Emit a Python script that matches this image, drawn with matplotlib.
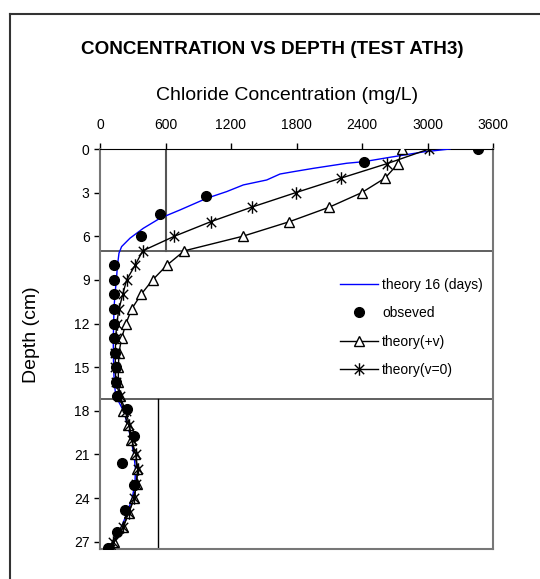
import numpy as np
from matplotlib import pyplot as plt
from matplotlib.path import Path
from matplotlib.lines import Line2D

plt.rcParams['font.family'] = ['Liberation Sans', 'DejaVu Sans']

# observed chloride (mg/L) vs depth (cm)
obs_depth = [0, 0.9, 3.2, 4.5, 6, 8, 9, 10, 11, 12, 13, 14, 15, 16, 17,
             17.9, 19.7, 21.6, 23.1, 24.8, 26.3, 27.4]
obs_conc = [3465, 2418, 971, 550, 372, 128, 128, 128, 128, 128, 128, 137, 146, 150, 153,
            250, 314, 204, 311, 226, 159, 70]

# theory 16 days
th_depth = [0, 0.2, 0.57, 0.87, 0.98, 1.33, 1.56, 1.72, 2.13, 2.47, 2.93, 3.39, 4.19,
            4.76, 5.45, 6.13, 6.71, 7.16, 8, 9, 10, 11, 12, 13, 14, 15, 16, 17,
            18, 19, 20, 21, 22, 23, 24, 25, 26, 27, 27.5]
th_conc = [3206, 2962, 2656, 2418, 2260, 1954, 1771, 1649, 1527, 1313, 1160, 977, 733,
           550, 397, 275, 198, 174, 160, 150, 137, 128, 125, 122, 122, 125, 130, 145,
           215, 255, 285, 310, 325, 320, 295, 250, 195, 120, 90]

# theory(+v) and theory(v=0), one point per cm
depth_int = list(range(28)) + [27.5]
tv_conc = [2763, 2732, 2611, 2397, 2100, 1734, 1307, 772, 611, 482, 376, 290, 238, 198,
           174, 168, 168, 183, 214, 260, 284, 321, 342, 336, 311, 266, 208, 131, 107]
t0_conc = [3014, 2632, 2208, 1793, 1389, 1014, 681, 391, 321, 244, 208, 174, 153, 144,
           140, 140, 145, 183, 235, 270, 292, 327, 345, 333, 314, 262, 214, 122, 92]

star = Path([(0, -1), (0, 1), (-0.75, -0.75), (0.75, 0.75), (-0.75, 0.75), (0.75, -0.75)],
            [Path.MOVETO, Path.LINETO, Path.MOVETO, Path.LINETO, Path.MOVETO, Path.LINETO])

fig = plt.figure(figsize=(5.4, 5.79), dpi=100)
ax = fig.add_axes([100/540, 1-549/579, 393/540, 400/579])

ax.axhline(7, color='#444444', lw=1.2, zorder=1)
ax.axhline(17.2, color='#444444', lw=1.2, zorder=1)
ax.plot([600, 600], [0, 7], color='#555555', lw=1.5, zorder=1)
ax.plot([535, 535], [17.2, 27.5], color='black', lw=1, zorder=1)

ax.plot(th_conc, th_depth, color='#0000ff', lw=1, label='theory 16 (days)', zorder=3)
ax.plot(obs_conc, obs_depth, 'o', color='black', ms=7, label='obseved', zorder=4)
ax.plot(tv_conc, depth_int, color='black', lw=1, marker='^', ms=7, mfc='white',
        mec='black', mew=1, label='theory(+v)', zorder=3)
ax.plot(t0_conc, depth_int, color='black', lw=1, marker=star, ms=9, mew=1,
        label='theory(v=0)', zorder=3)

ax.set_xlim(0, 3600)
ax.set_ylim(27.5, 0)
ax.set_xticks(np.arange(0, 3601, 600))
ax.set_yticks(np.arange(0, 28, 3))
ax.xaxis.tick_top()
ax.tick_params(axis='both', labelsize=10, length=4, direction='out', width=1)
ax.tick_params(axis='x', pad=8)

for s in ['left', 'right', 'bottom']:
    ax.spines[s].set_color('#777777')
    ax.spines[s].set_linewidth(1.5)
ax.spines['top'].set_color('black')

ax.legend(loc='upper left', bbox_to_anchor=(0.58, 0.71), frameon=False, fontsize=10,
          handlelength=2.7, handletextpad=0.3, labelspacing=1.05)

fig.text(272/540, 1-49/579, 'CONCENTRATION VS DEPTH (TEST ATH3)', ha='center', va='center',
         fontsize=13.6, fontweight='bold')
fig.text(287/540, 1-95/579, 'Chloride Concentration (mg/L)', ha='center', va='center',
         fontsize=14)
fig.text(32/540, 1-335/579, 'Depth (cm)', rotation=90, ha='center', va='center',
         fontsize=14)

# outer chart frame
fig.add_artist(Line2D([10/540, 10/540], [0, 1-14/579], color='#333333', lw=1.5))
fig.add_artist(Line2D([10/540, 1], [1-14/579, 1-14/579], color='#333333', lw=1.5))

fig.savefig('out.png', dpi=100)
